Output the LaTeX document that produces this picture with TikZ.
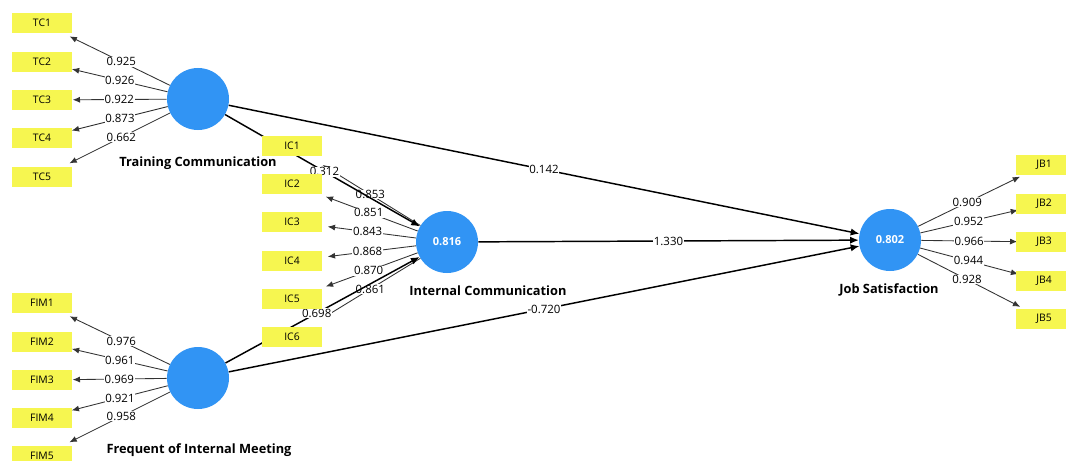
\documentclass[tikz,border=0pt]{standalone}
\usepackage{fontspec}
\setmainfont{Open Sans}
\usetikzlibrary{arrows.meta,backgrounds}
\definecolor{lvblue}{RGB}{49,148,244}
\definecolor{mvyellow}{RGB}{246,246,80}

\begin{document}
\begin{tikzpicture}[x=0.75pt,y=-0.75pt,
    lv/.style={circle,fill=lvblue,minimum size=46.5pt,inner sep=0pt,text=white,font=\bfseries\fontsize{8.3}{9}\selectfont},
    mv/.style={rectangle,fill=mvyellow,minimum width=45pt,minimum height=15.5pt,inner sep=0pt,font=\fontsize{7.8}{8}\selectfont},
    title/.style={font=\bfseries\fontsize{9.6}{11}\selectfont},
    wt/.style={fill=white,inner sep=0.5pt,font=\fontsize{8.6}{9}\selectfont},
    ind/.style={draw=black!80,line width=0.65pt,-{Latex[length=5.5pt,width=4.5pt]}},
    sp/.style={draw=black,line width=1.1pt,-{Latex[length=6.5pt,width=5.5pt]}}]
      \useasboundingbox (0,0) rectangle (1066,460);
      % latent variables
      \node[lv] (tc) at (198,99) {};
      \node[lv] (fim) at (198,378) {};
      \node[lv] (ic) at (447,242) {0.816};
      \node[lv] (js) at (890,240) {0.802};
      \node[title] (tctitle) at (198,163) {Training Communication};
      \node[title] (fimtitle) at (199,450) {Frequent of Internal Meeting};
      \node[title] (ictitle) at (488,291) {Internal Communication};
      \node[title] (jstitle) at (889,290) {Job Satisfaction};
      % indicators
      \node[mv] (tc1) at (42,23) {TC1};
      \node[mv] (tc2) at (42,62) {TC2};
      \node[mv] (tc3) at (42,100) {TC3};
      \node[mv] (tc4) at (42,138) {TC4};
      \node[mv] (tc5) at (42,177) {TC5};
      \node[mv] (fim1) at (42,303) {FIM1};
      \node[mv] (fim2) at (42,342) {FIM2};
      \node[mv] (fim3) at (42,380) {FIM3};
      \node[mv] (fim4) at (42,418) {FIM4};
      \node[mv] (fim5) at (42,456) {FIM5};
      \node[mv] (ic1) at (292,146) {IC1};
      \node[mv] (ic2) at (292,184) {IC2};
      \node[mv] (ic3) at (292,222) {IC3};
      \node[mv] (ic4) at (292,261) {IC4};
      \node[mv] (ic5) at (292,299) {IC5};
      \node[mv] (ic6) at (292,337) {IC6};
      \node[mv,minimum width=42pt] (jb1) at (1044,165) {JB1};
      \node[mv,minimum width=42pt] (jb2) at (1044,204) {JB2};
      \node[mv,minimum width=42pt] (jb3) at (1044,242) {JB3};
      \node[mv,minimum width=42pt] (jb4) at (1044,281) {JB4};
      \node[mv,minimum width=42pt] (jb5) at (1044,319) {JB5};
      \begin{pgfonlayer}{background}
        \fill[white] (0,0) rectangle (1066,460);
        % outer loadings
        \begin{scope}[ind,shorten >=23pt]
          \draw (tc) -- (tc1.center) node[pos=.38,wt]{0.925};
          \draw (tc) -- (tc2.center) node[pos=.38,wt]{0.926};
          \draw (tc) -- (tc3.center) node[pos=.38,wt]{0.922};
          \draw (tc) -- (tc4.center) node[pos=.38,wt]{0.873};
          \draw (tc) -- (tc5.center) node[pos=.38,wt]{0.662};
          \draw (fim) -- (fim1.center) node[pos=.38,wt]{0.976};
          \draw (fim) -- (fim2.center) node[pos=.38,wt]{0.961};
          \draw (fim) -- (fim3.center) node[pos=.38,wt]{0.969};
          \draw (fim) -- (fim4.center) node[pos=.38,wt]{0.921};
          \draw (fim) -- (fim5.center) node[pos=.38,wt]{0.958};
        \end{scope}
        \begin{scope}[ind,shorten >=27pt]
          \draw (ic) -- (ic1.center) node[pos=.39,wt]{0.853};
          \draw (ic) -- (ic2.center) node[pos=.39,wt]{0.851};
          \draw (ic) -- (ic3.center) node[pos=.39,wt]{0.843};
          \draw (ic) -- (ic4.center) node[pos=.39,wt]{0.868};
          \draw (ic) -- (ic5.center) node[pos=.39,wt]{0.870};
          \draw (ic) -- (ic6.center) node[pos=.39,wt]{0.861};
        \end{scope}
        \begin{scope}[ind,shorten >=20pt]
          \draw (js) -- (jb1.center) node[pos=.39,wt]{0.909};
          \draw (js) -- (jb2.center) node[pos=.39,wt]{0.952};
          \draw (js) -- (jb3.center) node[pos=.39,wt]{0.966};
          \draw (js) -- (jb4.center) node[pos=.39,wt]{0.944};
          \draw (js) -- (jb5.center) node[pos=.39,wt]{0.928};
        \end{scope}
        % path coefficients
        \draw[sp] (tc) -- (ic) node[pos=.51,wt]{0.312};
        \draw[sp] (fim) -- (ic) node[pos=.47,wt]{0.698};
        \draw[sp] (tc) -- (js) node[midway,wt]{0.142};
        \draw[sp] (ic) -- (js) node[midway,wt]{1.330};
        \draw[sp] (fim) -- (js) node[midway,wt]{-0.720};
      \end{pgfonlayer}
    \end{tikzpicture}
\end{document}
